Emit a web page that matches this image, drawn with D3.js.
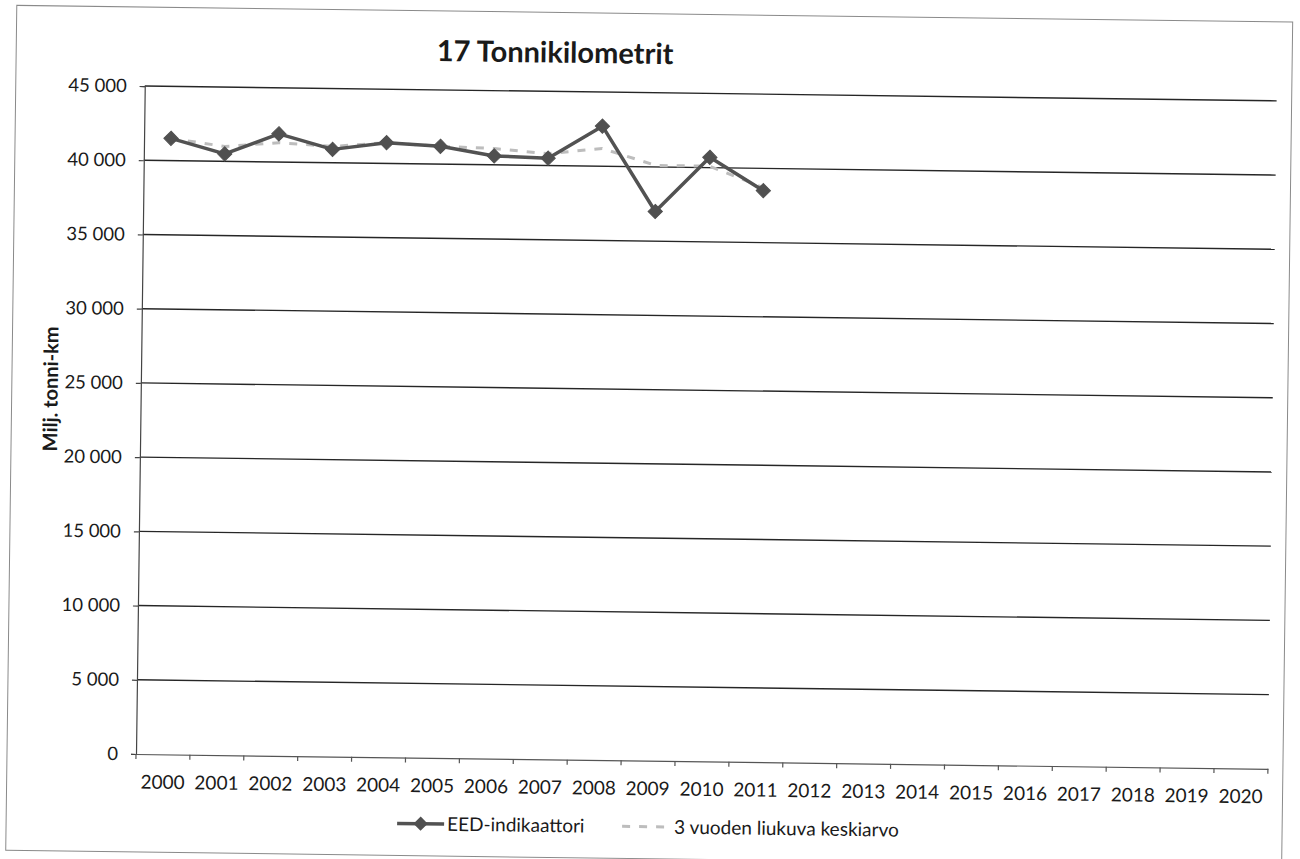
<!DOCTYPE html>
<html>
<head>
<meta charset="utf-8">
<script src="https://cdn.jsdelivr.net/npm/d3@7"></script>
<style>
  html, body { margin: 0; padding: 0; background: #fff; }
  svg { display: block; }
  text { font-family: Lato, "Open Sans", sans-serif; fill: #1a1a1a; }
</style>
</head>
<body>
<svg id="chart" width="1300" height="859"></svg>
<script>
// ---- data ----
const years = ["2000","2001","2002","2003","2004","2005","2006","2007","2008","2009","2010",
               "2011","2012","2013","2014","2015","2016","2017","2018","2019","2020"];
const eedYears = ["2000","2001","2002","2003","2004","2005","2006","2007","2008","2009","2010","2011"];
const eedValues = [41500, 40500, 41900, 40900, 41400, 41200, 40600, 40500, 42700, 37000, 40700, 38500];
const maValues  = [41500, 41000, 41300, 41100, 41400, 41200, 41100, 40800, 41200, 40100, 40100, 38700];
const yTicks = [0, 5000, 10000, 15000, 20000, 25000, 30000, 35000, 40000, 45000];
const title = "17 Tonnikilometrit";
const yTitle = "Milj. tonni-km";
const seriesNames = ["EED-indikaattori", "3 vuoden liukuva keskiarvo"];

// ---- layout ----
const svg = d3.select("#chart");
const L = 136, R = 1268, T = 86, B = 754;
const root = svg.append("g").attr("transform", `rotate(0.75, ${L}, ${B})`);

// outer border
root.append("rect").attr("x", 7).attr("y", 7).attr("width", 1276).attr("height", 845)
  .attr("fill", "none").attr("stroke", "#8a8a8a").attr("stroke-width", 1);

const x = d3.scaleBand().domain(years).range([L, R]).padding(0);
const y = d3.scaleLinear().domain([0, 45000]).range([B, T]);
const fmt = v => d3.format(",")(v).replace(/,/g, " ");

// gridlines
root.append("g").selectAll("line").data(yTicks.filter(t => t > 0)).join("line")
  .attr("x1", L).attr("x2", R)
  .attr("y1", d => y(d)).attr("y2", d => y(d))
  .attr("stroke", "#262626").attr("stroke-width", 1.4);

// y axis
const yAxis = root.append("g").attr("transform", `translate(${L},0)`)
  .call(d3.axisLeft(y).tickValues(yTicks).tickFormat(fmt).tickSize(5).tickPadding(13));
yAxis.select(".domain").attr("stroke", "#444").attr("stroke-width", 1.2);
yAxis.selectAll(".tick line").attr("stroke", "#444").attr("stroke-width", 1.2);
yAxis.selectAll(".tick text").style("font-family", "Lato, sans-serif").style("font-size", "18.5px").attr("fill", "#1a1a1a");

// x axis
const xAxis = root.append("g").attr("transform", `translate(0,${B})`)
  .call(d3.axisBottom(x).tickSize(0).tickPadding(21));
xAxis.select(".domain").attr("stroke", "#555").attr("stroke-width", 1.2);
xAxis.selectAll(".tick text").style("font-family", "Lato, sans-serif").style("font-size", "19px").attr("fill", "#1a1a1a");
// tick marks at category boundaries
root.append("g").selectAll("line").data(years.concat(["end"])).join("line")
  .attr("x1", (d, i) => L + i * x.step()).attr("x2", (d, i) => L + i * x.step())
  .attr("y1", B).attr("y2", B + 5)
  .attr("stroke", "#555").attr("stroke-width", 1.2);

// moving average (dashed)
const cx = d => x(d) + x.bandwidth() / 2;
const lineGen = d3.line().x(d => cx(d[0])).y(d => y(d[1]));
root.append("path").datum(eedYears.map((d, i) => [d, maValues[i]]))
  .attr("d", lineGen).attr("fill", "none")
  .attr("stroke", "#bdbdbd").attr("stroke-width", 3).attr("stroke-dasharray", "8,9");

// EED line + diamond markers
root.append("path").datum(eedYears.map((d, i) => [d, eedValues[i]]))
  .attr("d", lineGen).attr("fill", "none")
  .attr("stroke", "#525252").attr("stroke-width", 3.5).attr("stroke-linejoin", "round");
const diamond = d3.symbol().type(d3.symbolDiamond2).size(130);
root.append("g").selectAll("path").data(eedYears.map((d, i) => [d, eedValues[i]])).join("path")
  .attr("d", diamond)
  .attr("transform", d => `translate(${cx(d[0])},${y(d[1])})`)
  .attr("fill", "#505050").attr("stroke", "#505050").attr("stroke-width", 1);

// title
root.append("text").attr("x", 546).attr("y", 47).attr("dy", "0.35em")
  .attr("text-anchor", "middle").style("font-size", "29px").style("font-weight", "bold")
  .text(title);

// y title
root.append("text").attr("transform", "translate(46,390) rotate(-90)")
  .attr("text-anchor", "middle").attr("dy", "0.35em")
  .style("font-size", "20px").style("font-weight", "bold").text(yTitle);

// legend
const lg = root.append("g").attr("transform", "translate(0,820)");
lg.append("line").attr("x1", 398).attr("x2", 445).attr("y1", 0).attr("y2", 0)
  .attr("stroke", "#525252").attr("stroke-width", 3.5);
lg.append("path").attr("d", diamond).attr("transform", "translate(421.5,0)")
  .attr("fill", "#505050");
lg.append("text").attr("x", 448).attr("y", 0).attr("dy", "0.35em")
  .style("font-size", "19px").text(seriesNames[0]);
lg.append("line").attr("x1", 623).attr("x2", 665).attr("y1", 0).attr("y2", 0)
  .attr("stroke", "#bdbdbd").attr("stroke-width", 3).attr("stroke-dasharray", "8,9");
lg.append("text").attr("x", 675).attr("y", 0).attr("dy", "0.35em")
  .style("font-size", "19px").text(seriesNames[1]);
</script>
</body>
</html>
